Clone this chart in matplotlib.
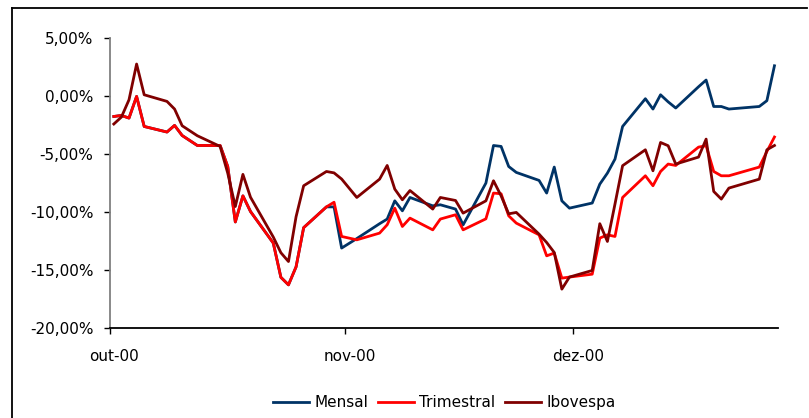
import pandas as pd
import matplotlib.pyplot as plt
from matplotlib.lines import Line2D
from matplotlib.ticker import FuncFormatter, MultipleLocator

plt.rcParams['font.family'] = ['DejaVu Sans']

# trading days, Oct-Dec 2000 (B3 holidays removed)
holidays = ['2000-10-12', '2000-11-02', '2000-11-15', '2000-12-25']
dates = pd.bdate_range('2000-10-02', '2000-12-28', freq='C', holidays=holidays)

# accumulated return, %
mensal = [
    -1.76, -1.67, -1.90, -0.03, -2.62, -3.10, -2.53, -3.40, -4.26, -4.26,
    -6.07, -10.85, -8.60, -9.95, -12.67, -15.62, -16.27, -14.72, -11.34, -9.55,
    -9.55, -13.10, -12.28, -11.00, -10.60, -9.03, -9.89, -8.74, -9.46, -9.37,
    -9.74, -11.10, -7.50, -4.26, -4.34, -6.07, -6.58, -7.27, -8.36, -6.12,
    -9.03, -9.66, -9.22, -7.59, -6.64, -5.43, -2.62, -0.23, -1.12, 0.11,
    -0.50, -1.03, 0.80, 1.38, -0.90, -0.90, -1.12, -0.90, -0.40, 2.61,
]
trimestral = [
    -1.76, -1.67, -1.90, -0.03, -2.62, -3.10, -2.53, -3.40, -4.26, -4.26,
    -6.07, -10.85, -8.60, -9.95, -12.67, -15.62, -16.27, -14.72, -11.34, -9.55,
    -9.15, -12.10, -12.39, -11.81, -11.09, -9.66, -11.24, -10.52, -11.53, -10.60,
    -10.23, -11.53, -10.58, -8.36, -8.42, -10.32, -10.95, -11.96, -13.77, -13.53,
    -15.69, -15.60, -15.35, -12.24, -11.96, -12.10, -8.74, -6.87, -7.73, -6.50,
    -5.86, -5.98, -4.40, -4.28, -6.50, -6.87, -6.87, -6.12, -4.78, -3.53,
]
ibovespa = [
    -2.41, -1.81, -0.32, 2.76, 0.11, -0.46, -1.12, -2.56, -3.42, -4.34,
    -6.64, -9.52, -6.75, -8.72, -12.15, -13.50, -14.26, -10.40, -7.73, -6.50,
    -6.62, -7.15, -8.74, -7.16, -5.98, -8.02, -8.94, -8.14, -9.74, -8.74,
    -9.00, -10.09, -9.03, -7.30, -8.60, -10.15, -10.03, -11.90, -12.62, -13.48,
    -16.64, -15.60, -15.03, -11.00, -12.53, -9.30, -6.00, -4.63, -6.44, -4.00,
    -4.28, -5.86, -5.26, -3.71, -8.22, -8.88, -7.93, -7.16, -4.63, -4.26,
]

month_starts = pd.to_datetime(['2000-10-01', '2000-11-01', '2000-12-01'])
month_labels = ['out-00', 'nov-00', 'dez-00']

fig = plt.figure(figsize=(8.09, 4.18), dpi=100)
ax = fig.add_axes([0.136, 0.215, 0.826, 0.694])

ax.plot(dates, mensal, color='#003366', lw=2, label='Mensal')
ax.plot(dates, trimestral, color='#FF0000', lw=2, label='Trimestral')
ax.plot(dates, ibovespa, color='#800000', lw=2, label='Ibovespa')

# tick marks on month boundaries, labels centred a bit to their right
half_day = pd.Timedelta(hours=12)
ax.set_xlim(month_starts[0] + half_day, dates[-1] + half_day)
ax.set_xticks(month_starts + half_day)
ax.set_xticklabels([])
ax.set_xticks(month_starts + pd.Timedelta(hours=26), minor=True)
ax.set_xticklabels(month_labels, minor=True)

ax.set_ylim(-20, 5)
ax.yaxis.set_major_locator(MultipleLocator(5))
ax.yaxis.set_major_formatter(
    FuncFormatter(lambda v, _: f'{v:.2f}%'.replace('.', ',')))

for side in ['top', 'right']:
    ax.spines[side].set_visible(False)
ax.spines['left'].set_color('#808080')
ax.spines['left'].set_linewidth(1.3)
ax.spines['bottom'].set_color('black')
ax.spines['bottom'].set_linewidth(1.3)
ax.tick_params(axis='y', direction='out', length=4, width=1, color='black',
               pad=8, labelsize=11)
ax.tick_params(axis='x', which='major', direction='out', length=4, width=1,
               color='black')
ax.tick_params(axis='x', which='minor', length=0, pad=15, labelsize=11)

fig.legend(loc='center', bbox_to_anchor=(0.549, 0.037), ncol=3,
           frameon=False, fontsize=11, handlelength=2.4,
           handletextpad=0.33, columnspacing=0.6)

# chart area frame (top and left edges)
x0, y0 = 11.5 / 809, 1 - 7.5 / 418
fig.add_artist(Line2D([x0, 0.998], [y0, y0], color='black', lw=1.3))
fig.add_artist(Line2D([x0, x0], [0.0, y0], color='black', lw=1.3))

fig.savefig('out.png', dpi=100)
